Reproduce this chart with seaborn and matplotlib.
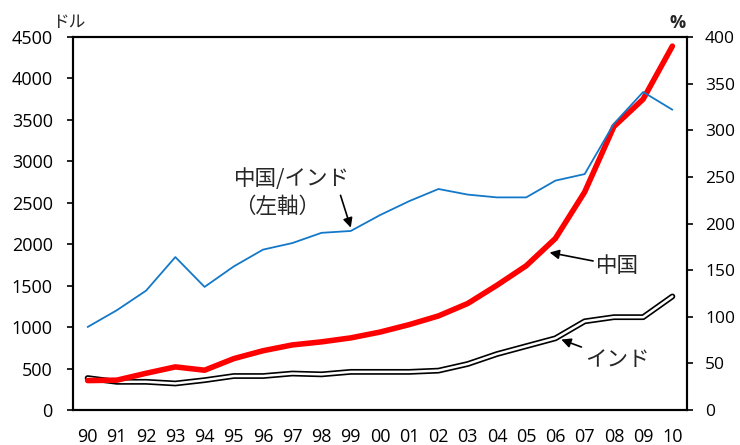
import matplotlib
matplotlib.use("Agg")
import matplotlib.pyplot as plt
import seaborn as sns
import pandas as pd
import numpy as np
from matplotlib.ticker import FixedLocator

years = ["90", "91", "92", "93", "94", "95", "96", "97", "98", "99", "00",
         "01", "02", "03", "04", "05", "06", "07", "08", "09", "10"]
china = [355, 360, 443, 520, 480, 620, 715, 785, 822, 870, 940,
         1030, 1135, 1285, 1505, 1740, 2070, 2630, 3420, 3750, 4390]
india = [385, 340, 340, 320, 360, 410, 410, 440, 430, 460, 460,
         460, 475, 555, 675, 770, 865, 1070, 1120, 1120, 1370]
ratio = [89, 107, 128, 164, 132, 154, 172, 179, 190, 192, 209,
         224, 237, 231, 228, 228, 246, 253, 307, 341, 322]

df = pd.DataFrame({"x": np.arange(len(years)), "year": years,
                   "china": china, "india": india, "ratio": ratio})

sns.set_theme(style="white")
plt.rcParams["font.family"] = ["Open Sans", "Noto Sans CJK JP", "DejaVu Sans"]
jp = ["Noto Sans CJK JP", "DejaVu Sans"]

fig = plt.figure(figsize=(7.4, 4.45), dpi=100)
ax = fig.add_axes([73/740, 1 - 410/445, (687-73)/740, (410-37)/445])
ax2 = ax.twinx()

sns.lineplot(data=df, x="x", y="china", ax=ax, color="#FF0000", lw=4.0,
             legend=False, zorder=3)
sns.lineplot(data=df, x="x", y="india", ax=ax, color="black", lw=4.2,
             legend=False, zorder=2)
sns.lineplot(data=df, x="x", y="india", ax=ax, color="white", lw=1.8,
             legend=False, zorder=2.5)
sns.lineplot(data=df, x="x", y="ratio", ax=ax2, color="#1478C8", lw=1.3,
             legend=False)

ax.set_xlim(-0.5, len(years) - 0.5)
ax.set_ylim(0, 4500)
ax2.set_ylim(0, 400)
ax.set_yticks(np.arange(0, 4501, 500))
ax2.set_yticks(np.arange(0, 401, 50))
ax.set_xticks(df["x"])
ax.set_xticklabels(years)
ax.xaxis.set_minor_locator(FixedLocator(np.arange(-0.5, len(years), 1.0)))
ax.set_xlabel("")
ax.set_ylabel("")
ax2.set_ylabel("")

for a in (ax, ax2):
    for s in a.spines.values():
        s.set_color("black")
        s.set_linewidth(1.5)
    a.grid(False)

ax.tick_params(axis="x", which="major", length=0, pad=13, labelsize=13, colors="black")
ax.tick_params(axis="x", which="minor", direction="in", length=6, width=1.2, color="black")
ax.tick_params(axis="y", direction="out", length=4.5, width=1.2, labelsize=13,
               colors="black", left=True, pad=10)
ax2.tick_params(axis="y", direction="out", length=4, width=1.2, labelsize=12.5,
                colors="black", right=True, pad=9)

fig.text(52/740, 1 - 23/445, "ドル", family=jp, fontsize=12, ha="left", va="center")
fig.text(678/740, 1 - 23/445, "%", fontsize=13, fontweight="bold", ha="center", va="center")

arrow = dict(arrowstyle="-|>", color="black", lw=1.2, mutation_scale=14,
             shrinkA=0, shrinkB=0)
ax.annotate("中国/インド\n（左軸）", xy=(5.0, 2620), xytext=(5.0, 2620),
            family=jp, fontsize=15.5, ha="left", va="center", linespacing=1.35,
            annotation_clip=False)
ax.annotate("", xy=(9.0, 2200), xytext=(8.65, 2590), arrowprops=arrow)
ax.annotate("中国", xy=(15.8, 1900), xytext=(17.4, 1740), family=jp,
            fontsize=15.5, ha="left", va="center", arrowprops=arrow)
ax.annotate("インド", xy=(16.2, 850), xytext=(17.0, 600), family=jp,
            fontsize=15.5, ha="left", va="center", arrowprops=arrow)

fig.savefig("out.png", dpi=100)
